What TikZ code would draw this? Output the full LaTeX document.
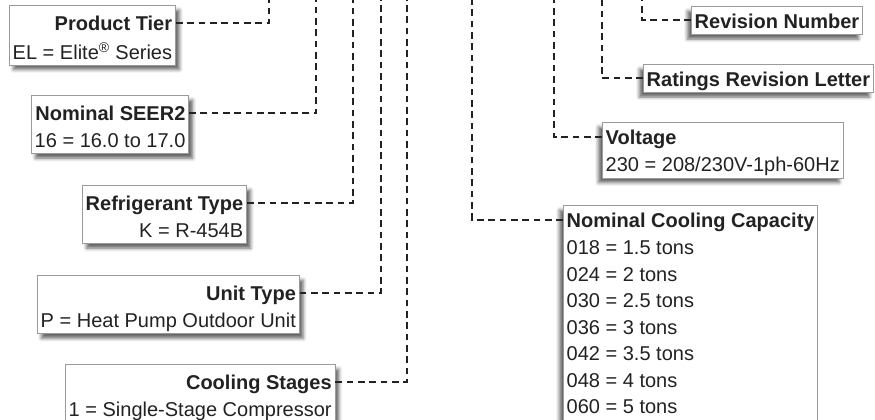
\documentclass[tikz,border=0pt]{standalone}
\usepackage{fontspec}
\setmainfont{Liberation Sans}
\usetikzlibrary{shapes.multipart,shadows.blur}

\definecolor{testo}{HTML}{222222}
\definecolor{bordo}{HTML}{9A9A9A}

% altezze delle righe nelle schede
\newcommand\rigasx{\rule[-6.7pt]{0pt}{23.9pt}}
\newcommand\corposx{\rule[-3pt]{0pt}{14.5pt}}
\newcommand\rigadx{\rule[-3.5pt]{0pt}{19pt}}
\newcommand\corpodx{\rule[-3.5pt]{0pt}{17.5pt}}
\newcommand\rigasola{\rule[-3.75pt]{0pt}{19.5pt}}

\tikzset{
  scheda/.style={rectangle split, rectangle split parts=2, rectangle split draw splits=false,
    draw=bordo, line width=0.6pt, fill=white, text=testo, inner xsep=2.5pt, inner ysep=1pt,
    font=\fontsize{15}{10}\selectfont},
  schedasx/.style={scheda, rectangle split part align={right,right},
    blur shadow={shadow xshift=3pt, shadow yshift=-3.5pt, shadow opacity=60, shadow blur radius=2.5pt}},
  schedadx/.style={scheda, rectangle split part align={left,left},
    blur shadow={shadow xshift=-3pt, shadow yshift=-3.5pt, shadow opacity=60, shadow blur radius=2.5pt}},
  etichetta/.style={rectangle, draw=bordo, line width=0.6pt, fill=white, text=testo,
    inner xsep=2.5pt, inner ysep=0.75pt, font=\fontsize{15}{10}\selectfont\bfseries,
    blur shadow={shadow xshift=-3pt, shadow yshift=-3.5pt, shadow opacity=60, shadow blur radius=2.5pt}},
  tratto/.style={draw=testo, line width=1.6pt, dash pattern=on 5pt off 3.5pt},
}

\begin{document}
\begin{tikzpicture}[x=0.75pt, y=-0.75pt]
  \useasboundingbox (0,0) rectangle (875,420);

  % Schede a sinistra
  \node[schedasx, anchor=north west] (tier) at (9,5)
    {\textbf{Product Tier}\rigasx\nodepart{two}EL = Elite\textsuperscript{®} Series\corposx};
  \node[schedasx, anchor=north west] (seer) at (31,95)
    {\textbf{Nominal SEER2}\rigasx\nodepart{two}16 = 16.0 to 17.0\corposx};
  \node[schedasx, anchor=north west] (refrig) at (82,185)
    {\textbf{Refrigerant Type}\rigasx\nodepart{two}K = R-454B\corposx};
  \node[schedasx, anchor=north west] (unit) at (37,275)
    {\textbf{Unit Type}\rigasx\nodepart{two}P = Heat Pump Outdoor Unit\corposx};
  \node[schedasx, anchor=north west] (stages) at (65,364)
    {\textbf{Cooling Stages}\rigasx\nodepart{two}1 = Single-Stage Compressor\corposx};

  % Schede a destra
  \node[etichetta, anchor=north west] (revnum) at (691,6) {Revision Number\rigasola};
  \node[etichetta, anchor=north west] (ratings) at (643,64) {Ratings Revision Letter\rigasola};
  \node[schedadx, anchor=north west] (volt) at (602,122)
    {\textbf{Voltage}\rigadx\nodepart{two}230 = 208/230V-1ph-60Hz\corpodx};
  \node[schedadx, anchor=north west] (cap) at (563,205)
    {\textbf{Nominal Cooling Capacity}\rigadx\nodepart{two}{\fontsize{15}{19.9}\selectfont
      \begin{tabular}{@{}l@{}}
      018 = 1.5 tons\\ 024 = 2 tons\\ 030 = 2.5 tons\\ 036 = 3 tons\\
      042 = 3.5 tons\\ 048 = 4 tons\\ 060 = 5 tons\end{tabular}}};

  % Estremi in alto delle linee
  \coordinate (tiertop) at (269,0);
  \coordinate (seertop) at (316,0);
  \coordinate (refrigtop) at (353,0);
  \coordinate (unittop) at (381,0);
  \coordinate (stagestop) at (407,0);
  \coordinate (captop) at (472,0);
  \coordinate (volttop) at (554,0);
  \coordinate (ratingstop) at (602,0);
  \coordinate (revnumtop) at (642,0);

  % Linee tratteggiate
  \draw[tratto] (tier.text east) -| (tiertop);
  \draw[tratto] (seer.text east) -| (seertop);
  \draw[tratto] (refrig.text east) -| (refrigtop);
  \draw[tratto] (unit.text east) -| (unittop);
  \draw[tratto] (stages.text east) -| (stagestop);
  \draw[tratto] (cap.text west) -| (captop);
  \draw[tratto] (volt.text west) -| (volttop);
  \draw[tratto] (ratings.west) -| (ratingstop);
  \draw[tratto] (revnum.west) -| (revnumtop);
\end{tikzpicture}
\end{document}
